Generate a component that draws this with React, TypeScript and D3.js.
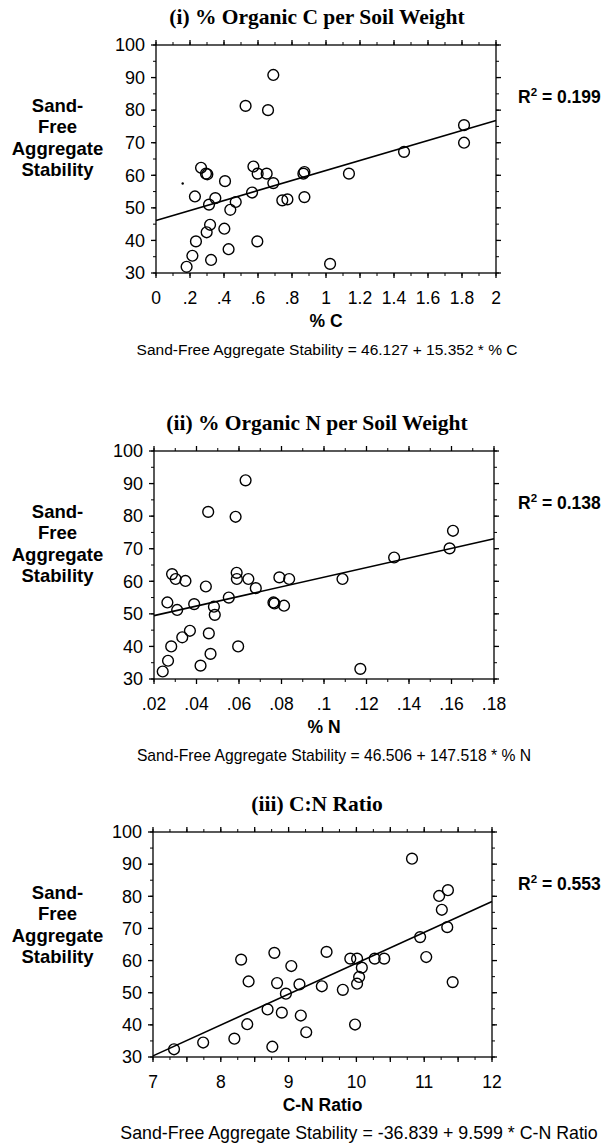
import React from 'react';
import * as d3 from 'd3';

// ---------- Data ----------
const carbonPct = [0.18,0.214,0.235,0.229,0.265,0.294,0.302,0.312,0.298,0.318,0.324,0.349,0.402,0.406,0.427,0.437,0.469,0.527,0.565,0.573,0.596,0.598,0.651,0.659,0.69,0.69,0.743,0.773,0.873,0.867,0.873,1.024,1.135,1.459,1.812,1.812];
const carbonStab = [31.9,35.3,39.7,53.5,62.3,60.5,60.3,51.0,42.5,44.8,34.0,53.0,43.6,58.2,37.3,49.4,51.8,81.3,54.7,62.7,39.7,60.5,60.5,80.0,90.8,57.6,52.3,52.6,61.0,60.5,53.3,32.8,60.5,67.2,75.4,70.0];

const nitrogenPct = [0.0285,0.0302,0.0348,0.0263,0.0309,0.0389,0.0444,0.0482,0.0486,0.0455,0.0552,0.0589,0.059,0.0584,0.0631,0.0644,0.0679,0.0762,0.0767,0.079,0.0812,0.0836,0.1087,0.133,0.1591,0.1607,0.0369,0.0333,0.0458,0.0281,0.0266,0.0241,0.0466,0.0419,0.0596,0.1171];
const nitrogenStab = [62.2,60.7,60.1,53.5,51.2,53.0,58.4,52.2,49.7,81.3,55.0,62.6,60.7,79.8,91.0,60.7,57.9,53.5,53.2,61.2,52.5,60.7,60.7,67.3,70.1,75.5,44.8,42.8,44.0,40.0,35.6,32.3,37.7,34.1,40.0,33.1];

const cnRatio = [10.82,11.22,11.35,11.26,11.34,10.94,11.03,11.42,8.30,8.79,9.56,9.04,9.91,10.01,10.08,10.27,10.41,10.04,10.01,8.41,8.83,9.16,9.49,9.80,8.96,8.69,8.90,9.18,8.39,9.98,9.26,8.20,7.74,7.31,8.76];
const cnStab = [91.7,80.1,81.9,75.8,70.4,67.3,61.1,53.3,60.3,62.4,62.7,58.3,60.6,60.6,57.8,60.6,60.6,54.9,52.8,53.5,53.0,52.6,52.0,50.9,49.7,44.8,43.8,42.9,40.2,40.1,37.7,35.7,34.5,32.4,33.2];

// small stray speck visible in panel (i)
const speckC = [0.157];
const speckStab = [57.5];

const yTickValues = [30,40,50,60,70,80,90,100];
const yTickLabels = ['30','40','50','60','70','80','90','100'];

const cTickValues = [0,0.2,0.4,0.6,0.8,1,1.2,1.4,1.6,1.8,2];
const cTickLabels = ['0','.2','.4','.6','.8','1','1.2','1.4','1.6','1.8','2'];
const nTickValues = [0.02,0.04,0.06,0.08,0.1,0.12,0.14,0.16,0.18];
const nTickLabels = ['.02','.04','.06','.08','.1','.12','.14','.16','.18'];
const cnTickValues = [7,8,9,10,11,12];
const cnTickLabels = ['7','8','9','10','11','12'];

const titles = ['(i) % Organic C per Soil Weight','(ii) % Organic N per Soil Weight','(iii) C:N Ratio'];
const xTitles = ['% C','% N','C-N Ratio'];
const equations = [
  'Sand-Free Aggregate Stability = 46.127 + 15.352 * % C',
  'Sand-Free Aggregate Stability = 46.506 + 147.518 * % N',
  'Sand-Free Aggregate Stability = -36.839 + 9.599 * C-N Ratio',
];
const r2Values = ['0.199','0.138','0.553'];
const intercepts = [46.127, 46.506, -36.839];
const slopes = [15.352, 147.518, 9.599];
const yTitleLines = ['Sand-','Free','Aggregate','Stability'];

// ---------- Layout ----------
const W = 606, H = 1144;
const SANS = 'Liberation Sans, Arial, sans-serif';
const SERIF = 'Liberation Serif, Times New Roman, serif';

interface PanelCfg {
  xs: number[]; ys: number[];
  domain: [number, number];
  ticks: number[]; tickLabels: string[];
  minorStep: number; majorStep: number;
  left: number; right: number; top: number; bottom: number;
  idx: number; eqX: number; eqSize: number;
}

const panels: PanelCfg[] = [
  { xs: carbonPct, ys: carbonStab, domain: [0, 2], ticks: cTickValues, tickLabels: cTickLabels, majorStep: 0.2, minorStep: 0.1, left: 156, right: 496, top: 45, bottom: 273, idx: 0, eqX: 327, eqSize: 15.5 },
  { xs: nitrogenPct, ys: nitrogenStab, domain: [0.02, 0.18], ticks: nTickValues, tickLabels: nTickLabels, majorStep: 0.02, minorStep: 0.01, left: 154, right: 494, top: 451, bottom: 679, idx: 1, eqX: 334, eqSize: 15.7 },
  { xs: cnRatio, ys: cnStab, domain: [7, 12], ticks: cnTickValues, tickLabels: cnTickLabels, majorStep: 0.5, minorStep: 0.25, left: 153, right: 492, top: 832, bottom: 1057, idx: 2, eqX: 359, eqSize: 17.8 },
];

function range(a: number, b: number, step: number): number[] {
  const out: number[] = [];
  const n = Math.round((b - a) / step);
  for (let i = 0; i <= n; i++) out.push(a + i * step);
  return out;
}

function Panel({ p }: { p: PanelCfg }) {
  const x = d3.scaleLinear().domain(p.domain).range([p.left, p.right]);
  const y = d3.scaleLinear().domain([30, 100]).range([p.bottom, p.top]);
  const xMajor = range(p.domain[0], p.domain[1], p.majorStep);
  const xMinor = range(p.domain[0], p.domain[1], p.minorStep);
  const yMajor = range(30, 100, 10);
  const yMinor = range(30, 100, 5);
  const line = d3.line<number>().x(v => x(v)).y(v => y(intercepts[p.idx] + slopes[p.idx] * v));
  const cx = (p.left + p.right) / 2;
  const sw = 1.3;
  const ML = 5, mL = 3;
  return (
    <g>
      <text x={317} y={p.top - 21} textAnchor="middle" fontFamily={SERIF} fontWeight="bold" fontSize={21.5}>{titles[p.idx]}</text>
      <rect x={p.left} y={p.top} width={p.right - p.left} height={p.bottom - p.top} fill="none" stroke="#000" strokeWidth={sw} />
      {xMinor.map((v, i) => (
        <g key={'xm' + i}>
          <line x1={x(v)} x2={x(v)} y1={p.bottom} y2={p.bottom + mL} stroke="#000" strokeWidth={1} />
          <line x1={x(v)} x2={x(v)} y1={p.top} y2={p.top - mL} stroke="#000" strokeWidth={1} />
        </g>
      ))}
      {xMajor.map((v, i) => (
        <g key={'xM' + i}>
          <line x1={x(v)} x2={x(v)} y1={p.bottom} y2={p.bottom + ML} stroke="#000" strokeWidth={sw} />
          <line x1={x(v)} x2={x(v)} y1={p.top} y2={p.top - ML} stroke="#000" strokeWidth={sw} />
        </g>
      ))}
      {yMinor.map((v, i) => (
        <g key={'ym' + i}>
          <line x1={p.left} x2={p.left - mL} y1={y(v)} y2={y(v)} stroke="#000" strokeWidth={1} />
          <line x1={p.right} x2={p.right + mL} y1={y(v)} y2={y(v)} stroke="#000" strokeWidth={1} />
        </g>
      ))}
      {yMajor.map((v, i) => (
        <g key={'yM' + i}>
          <line x1={p.left} x2={p.left - ML} y1={y(v)} y2={y(v)} stroke="#000" strokeWidth={sw} />
          <line x1={p.right} x2={p.right + ML} y1={y(v)} y2={y(v)} stroke="#000" strokeWidth={sw} />
        </g>
      ))}
      {yTickValues.map((v, i) => (
        <text key={'yl' + i} x={p.left - 11} y={y(v) + 6.3} textAnchor="end" fontFamily={SANS} fontSize={18}>{yTickLabels[i]}</text>
      ))}
      {p.ticks.map((v, i) => (
        <text key={'xl' + i} x={x(v)} y={p.bottom + 31} textAnchor="middle" fontFamily={SANS} fontSize={17.5}>{p.tickLabels[i]}</text>
      ))}
      {yTitleLines.map((s, i) => (
        <text key={'yt' + i} x={57.5} y={p.top + 60 + i * 21.5 + 6.5} textAnchor="middle" fontFamily={SANS} fontWeight="bold" fontSize={18.5}>{s}</text>
      ))}
      <text x={cx} y={p.bottom + 54} textAnchor="middle" fontFamily={SANS} fontWeight="bold" fontSize={17.5}>{xTitles[p.idx]}</text>
      <text x={518} y={p.top + 58} fontFamily={SANS} fontWeight="bold" fontSize={17.5}>
        R<tspan fontSize={11.5} dy={-7}>2</tspan><tspan dy={7}>{' = ' + r2Values[p.idx]}</tspan>
      </text>
      <text x={p.eqX} y={p.bottom + 82} textAnchor="middle" fontFamily={SANS} fontSize={p.eqSize}>{equations[p.idx]}</text>
      <path d={line(p.domain as number[]) || ''} fill="none" stroke="#000" strokeWidth={1.6} />
      {p.xs.map((v, i) => (
        <circle key={'pt' + i} cx={x(v)} cy={y(p.ys[i])} r={5.4} fill="none" stroke="#000" strokeWidth={1.4} />
      ))}
      {p.idx === 0 && speckC.map((v, i) => (
        <circle key={'sp' + i} cx={x(v)} cy={y(speckStab[i])} r={1.2} fill="#000" />
      ))}
    </g>
  );
}

export default function App() {
  return (
    <svg width={W} height={H} viewBox={`0 0 ${W} ${H}`} style={{ position: 'absolute', left: 0, top: 0, display: 'block', background: '#fff' }}>
      <rect x={0} y={0} width={W} height={H} fill="#fff" />
      {panels.map(p => <Panel key={p.idx} p={p} />)}
    </svg>
  );
}
